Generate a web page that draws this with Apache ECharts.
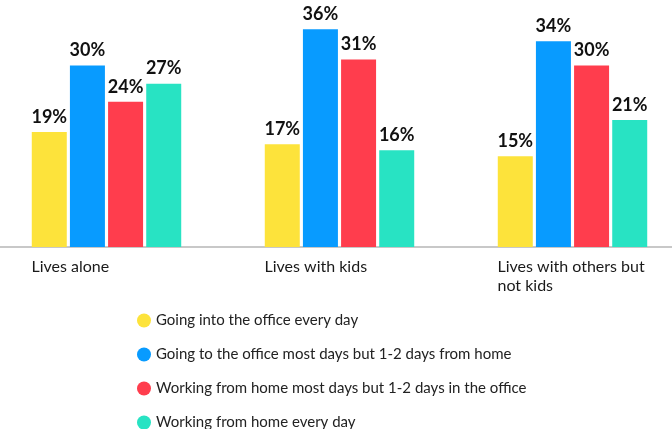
<!DOCTYPE html>
<html>
<head>
<meta charset="utf-8">
<script src="https://cdn.jsdelivr.net/npm/echarts@6/dist/echarts.min.js"></script>
<style>
  html, body { margin: 0; padding: 0; background: #fff; }
  #chart { width: 672px; height: 429px; }
</style>
</head>
<body>
<div id="chart"></div>
<script>
// categories
var groups = ['Lives alone', 'Lives with kids', 'Lives with others but not kids'];
// series names
var seriesNames = [
  'Going into the office every day',
  'Going to the office most days but 1-2 days from home',
  'Working from home most days but 1-2 days in the office',
  'Working from home every day'
];
// values (%)
var officeEveryDay = [19, 17, 15];
var officeMostDays = [30, 36, 34];
var homeMostDays = [24, 31, 30];
var homeEveryDay = [27, 16, 21];
var colors = ['#FDE33B', '#089BFF', '#FF3D4D', '#28E3C3'];

var allValues = [officeEveryDay, officeMostDays, homeMostDays, homeEveryDay];

var chart = echarts.init(document.getElementById('chart'));

var series = seriesNames.map(function (name, i) {
  return {
    name: name,
    type: 'bar',
    data: allValues[i],
    barWidth: 35,
    barGap: '9%',
    itemStyle: { color: colors[i] },
    label: {
      show: true,
      position: 'top',
      distance: 6,
      formatter: '{c}%',
      fontFamily: 'Lato',
      fontWeight: 'bold',
      fontSize: 18,
      color: '#111'
    }
  };
});

var option = {
  animation: false,
  color: colors,
  grid: {
    left: -10,
    right: -17,
    top: 5,
    bottom: 182,
    outerBoundsMode: 'none',
    containLabel: false
  },
  legend: {
    orient: 'vertical',
    left: 137,
    top: 313,
    height: 130,
    padding: 0,
    icon: 'circle',
    itemWidth: 14,
    itemHeight: 14,
    itemGap: 19,
    textStyle: { fontFamily: 'Lato', fontSize: 15, color: '#222' },
    data: seriesNames
  },
  xAxis: {
    type: 'category',
    data: groups,
    axisLine: { lineStyle: { color: '#c8c8c8', width: 2 } },
    axisTick: { show: false },
    axisLabel: {
      interval: 0,
      align: 'left',
      padding: [0, 0, 0, -75],
      margin: 10,
      fontFamily: 'Lato',
      fontSize: 16,
      lineHeight: 19,
      color: '#1a1a1a',
      formatter: function (v) {
        return v === 'Lives with others but not kids' ? 'Lives with others but\nnot kids' : v;
      }
    }
  },
  yAxis: {
    type: 'value',
    min: 0,
    max: 40,
    show: false
  },
  series: series
};

chart.setOption(option);
</script>
</body>
</html>
